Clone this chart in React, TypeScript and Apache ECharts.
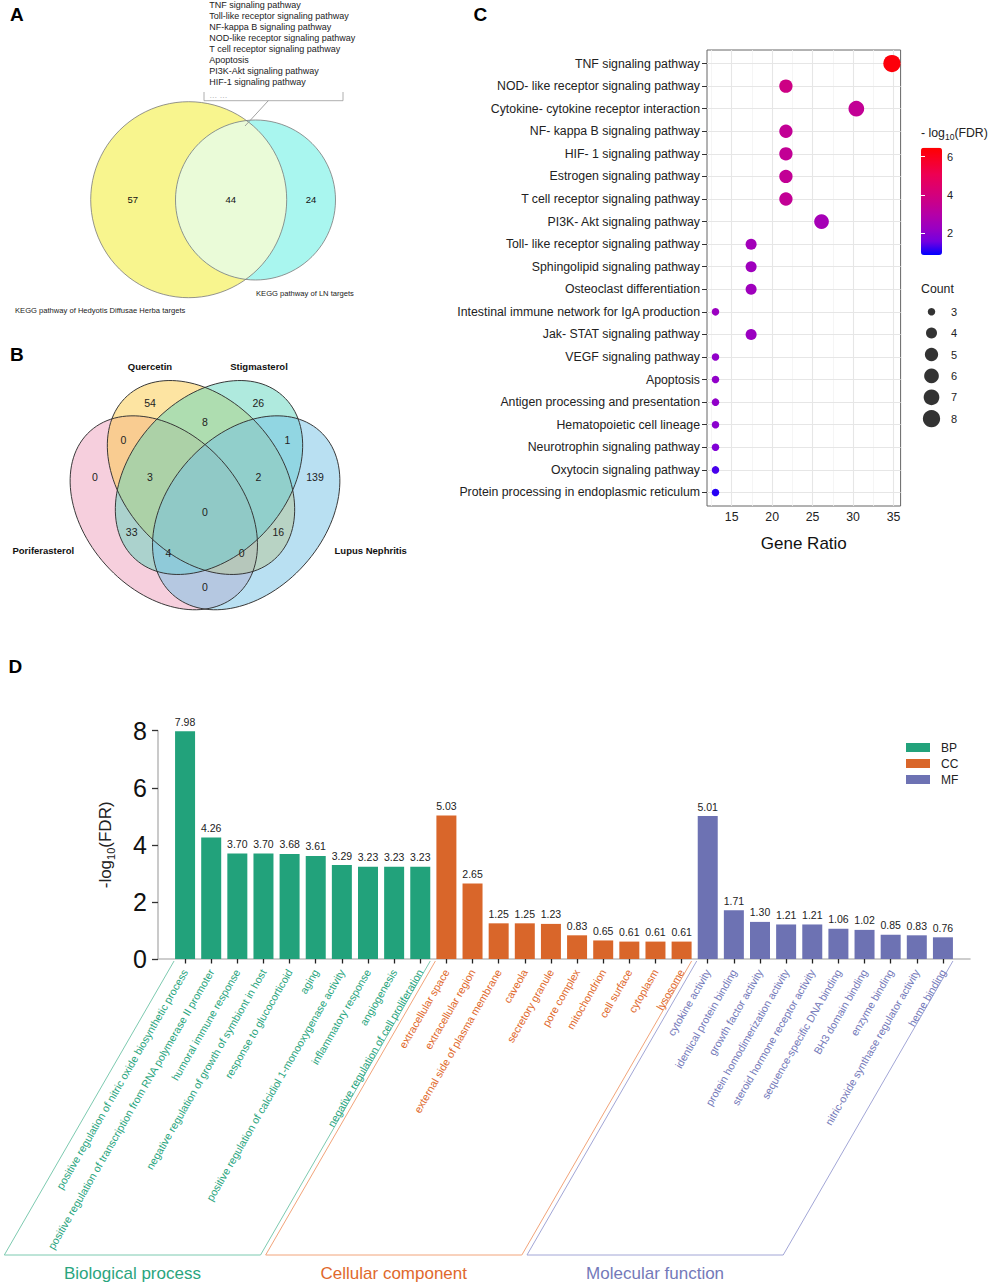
import React, { useEffect, useRef } from "react";
import * as echarts from "echarts";

// ===================== DATA =====================
// Panel A: two-set Venn of KEGG pathways
const vennACounts = [57, 44, 24]; // Hedyotis only, shared, LN only
const vennASetNames = [
  "KEGG pathway of Hedyotis Diffusae Herba targets",
  "KEGG pathway of LN targets",
];
const sharedPathways = [
  "TNF signaling pathway",
  "Toll-like receptor signaling pathway",
  "NF-kappa B signaling pathway",
  "NOD-like receptor signaling pathway",
  "T cell receptor signaling pathway",
  "Apoptosis",
  "PI3K-Akt signaling pathway",
  "HIF-1 signaling pathway",
];

// Panel B: four-set Venn
const vennBSetNames = ["Poriferasterol", "Quercetin", "Stigmasterol", "Lupus Nephritis"];
const vennBRegionKeys = ["A", "B", "C", "D", "AB", "BC", "CD", "ABC", "BCD", "ABCD", "AC", "BD", "ACD", "ABD", "AD"];
const vennBCounts = [0, 54, 26, 139, 0, 8, 1, 3, 2, 0, 33, 16, 4, 0, 0];

// Panel C: KEGG bubble chart
const keggPathways = [
  "TNF signaling pathway",
  "NOD- like receptor signaling pathway",
  "Cytokine- cytokine receptor interaction",
  "NF- kappa B signaling pathway",
  "HIF- 1 signaling pathway",
  "Estrogen signaling pathway",
  "T cell receptor signaling pathway",
  "PI3K- Akt signaling pathway",
  "Toll- like receptor signaling pathway",
  "Sphingolipid signaling pathway",
  "Osteoclast differentiation",
  "Intestinal immune network for IgA production",
  "Jak- STAT signaling pathway",
  "VEGF signaling pathway",
  "Apoptosis",
  "Antigen processing and presentation",
  "Hematopoietic cell lineage",
  "Neurotrophin signaling pathway",
  "Oxytocin signaling pathway",
  "Protein processing in endoplasmic reticulum",
];
const keggGeneRatio = [34.8, 21.7, 30.4, 21.7, 21.7, 21.7, 21.7, 26.1, 17.4, 17.4, 17.4, 13.0, 17.4, 13.0, 13.0, 13.0, 13.0, 13.0, 13.0, 13.0];
const keggCount = [8, 5, 7, 5, 5, 5, 5, 6, 4, 4, 4, 3, 4, 3, 3, 3, 3, 3, 3, 3];
const keggNegLogFdr = [6.3, 3.8, 3.4, 3.4, 3.4, 3.4, 3.4, 2.6, 2.5, 2.4, 2.4, 2.3, 2.3, 2.1, 2.1, 2.1, 2.0, 1.8, 1.3, 1.1];
const countLegendValues = [3, 4, 5, 6, 7, 8];
const geneRatioTicks = [15, 20, 25, 30, 35];
const geneRatioMinorTicks = [12.5, 17.5, 22.5, 27.5, 32.5];
const fdrColorTicks = [2, 4, 6];

// Panel D: GO enrichment bars
const bpTerms = [
  "positive regulation of nitric oxide biosynthetic process",
  "positive regulation of transcription from RNA polymerase II promoter",
  "humoral immune response",
  "negative regulation of growth of symbiont in host",
  "response to glucocorticoid",
  "aging",
  "positive regulation of calcidiol 1-monooxygenase activity",
  "inflammatory response",
  "angiogenesis",
  "negative regulation of cell proliferation",
];
const bpValues = [7.98, 4.26, 3.7, 3.7, 3.68, 3.61, 3.29, 3.23, 3.23, 3.23];
const ccTerms = [
  "extracellular space",
  "extracellular region",
  "external side of plasma membrane",
  "caveola",
  "secretory granule",
  "pore complex",
  "mitochondrion",
  "cell surface",
  "cytoplasm",
  "lysosome",
];
const ccValues = [5.03, 2.65, 1.25, 1.25, 1.23, 0.83, 0.65, 0.61, 0.61, 0.61];
const mfTerms = [
  "cytokine activity",
  "identical protein binding",
  "growth factor activity",
  "protein homodimerization activity",
  "steroid hormone receptor activity",
  "sequence-specific DNA binding",
  "BH3 domain binding",
  "enzyme binding",
  "nitric-oxide synthase regulator activity",
  "heme binding",
];
const mfValues = [5.01, 1.71, 1.3, 1.21, 1.21, 1.06, 1.02, 0.85, 0.83, 0.76];
const goGroupNames = ["BP", "CC", "MF"];
const goGroupTitles = ["Biological process", "Cellular component", "Molecular function"];

// ===================== LAYOUT / STYLE =====================
const FONT = "'Liberation Sans', Arial, Helvetica, sans-serif";
const W = 989;
const H = 1285;

const circA = { cx: 188.7, cy: 199.7, r: 98 };
const circB = { cx: 255.5, cy: 200, r: 80 };
const vennANumPos = [[132.7, 199.5], [230.7, 199.5], [311, 199.5]];
const vennALabelPos = [[15, 310], [256, 293]];

const ellipsesB = [
  { cx: 163.8, cy: 512.8, rx: 110, ry: 78, deg: 48, fill: "rgba(237,160,187,0.5)" },
  { cx: 201, cy: 477.5, rx: 110, ry: 78, deg: 48, fill: "rgba(251,201,70,0.5)" },
  { cx: 209, cy: 477.5, rx: 110, ry: 78, deg: -48, fill: "rgba(95,213,189,0.5)" },
  { cx: 246.2, cy: 512.8, rx: 110, ry: 78, deg: -48, fill: "rgba(115,193,229,0.5)" },
];
const vennBRegionPos: Record<string, number[]> = {
  A: [95, 476.7], B: [150, 403.3], C: [258.3, 403.3], D: [315, 476.7],
  AB: [123.3, 440], BC: [205, 421.7], CD: [287.3, 440], ABC: [150, 476.7],
  BCD: [258.3, 476.7], ABCD: [205, 511.7], AC: [131.7, 531.7], BD: [278.3, 531.7],
  ACD: [168.3, 553.3], ABD: [241.7, 553.3], AD: [205, 586.7],
};
const vennBSetLabelPos = [[43.3, 550], [150, 366.7], [259, 366.7], [370.7, 550]];

const DOT_SIZE: Record<number, number> = { 3: 7.5, 4: 11, 5: 13.3, 6: 14.7, 7: 15.7, 8: 17.3 };
const FDR_COLORS = ["#0000ff", "#7300e0", "#9a00c2", "#b400a8", "#ca0089", "#dc006f", "#ed0053", "#f7002a", "#ff0000"];

const BAR_COLORS = ["#22a27b", "#d9662a", "#6d72b3"];
const LABEL_COLORS = ["#2aa57e", "#e0692c", "#7479b9"];
const BRACKET_COLORS = ["#7dcab0", "#f2a47a", "#a2a6d6"];

// lens shape for panel A intersection
function lensPath(): string {
  const dx = circB.cx - circA.cx;
  const dy = circB.cy - circA.cy;
  const d = Math.hypot(dx, dy);
  const a = (circA.r * circA.r - circB.r * circB.r + d * d) / (2 * d);
  const h = Math.sqrt(circA.r * circA.r - a * a);
  const mx = circA.cx + (a * dx) / d;
  const my = circA.cy + (a * dy) / d;
  const tx = mx + (h * dy) / d, ty = my - (h * dx) / d;
  const bx = mx - (h * dy) / d, by = my + (h * dx) / d;
  return `M ${tx} ${ty} A ${circA.r} ${circA.r} 0 0 1 ${bx} ${by} A ${circB.r} ${circB.r} 0 0 1 ${tx} ${ty} Z`;
}
echarts.graphic.registerShape("vennLens", echarts.graphic.extendPath(lensPath(), {}));

const allTerms = [...bpTerms, ...ccTerms, ...mfTerms];
const groupSizes = [bpTerms.length, ccTerms.length, mfTerms.length];
const groupValues = [bpValues, ccValues, mfValues];
const groupStart = [0, bpTerms.length, bpTerms.length + ccTerms.length];
function groupOf(i: number) {
  return i < groupStart[1] ? 0 : i < groupStart[2] ? 1 : 2;
}
function padGroup(g: number) {
  return allTerms.map((_, i) => (groupOf(i) === g ? groupValues[g][i - groupStart[g]] : "-"));
}

function txt(x: number, y: number, text: string, opts: any = {}) {
  const align = opts.align || "left";
  const va = opts.va || "middle";
  return {
    type: "text",
    x,
    y,
    silent: true,
    z: opts.z || 10,
    style: {
      text,
      fontFamily: FONT,
      fontSize: opts.size || 12,
      fontWeight: opts.weight || "normal",
      fill: opts.color || "#222",
      align,
      verticalAlign: va,
      textAlign: align,
      textVerticalAlign: va,
      rich: opts.rich,
    },
  };
}

function buildOption(): any {
  return {
    animation: false,
    textStyle: { fontFamily: FONT },
    grid: [
      { left: 707, top: 50, width: 193.6, height: 456, show: true, borderColor: "#666", borderWidth: 1, backgroundColor: "#fff" },
      { left: 158, top: 730.7, width: 812, height: 228.3 },
      { left: 172, top: 730.7, width: 784, height: 228.3 },
      { left: 921, top: 147.7, width: 21, height: 107.3 },
      { left: 921, top: 301, width: 21, height: 128.4 },
    ],
    xAxis: [
      {
        gridIndex: 0, type: "value", min: 11.95, max: 35.87,
        axisLine: { show: false },
        axisTick: { show: true, customValues: geneRatioTicks, length: 4, lineStyle: { color: "#333" } },
        axisLabel: { customValues: geneRatioTicks, fontSize: 12.3, color: "#222", margin: 5 },
        splitLine: { show: false },
        name: "Gene Ratio", nameLocation: "middle", nameGap: 29,
        nameTextStyle: { fontSize: 17, color: "#111" },
      },
      {
        gridIndex: 1, type: "value", min: 0, max: 1,
        axisLine: { show: true, lineStyle: { color: "#bdbdbd", width: 1.6 } },
        axisTick: { show: false }, axisLabel: { show: false }, splitLine: { show: false },
      },
      {
        gridIndex: 2, type: "category", data: allTerms,
        axisLine: { show: false },
        axisTick: { show: true, alignWithLabel: true, length: 4.5, interval: 0, lineStyle: { color: "#222", width: 1.3 } },
        axisLabel: {
          interval: 0, rotate: 60, fontSize: 10.7, margin: 11,
          color: (_v: any, idx: number) => LABEL_COLORS[groupOf(idx)],
        },
        splitLine: { show: false },
      },
      { gridIndex: 3, type: "value", min: 0, max: 1, show: false },
      { gridIndex: 4, type: "value", min: -1, max: 1, show: false },
    ],
    yAxis: [
      {
        gridIndex: 0, type: "value", min: -0.6, max: keggPathways.length - 0.4, inverse: true,
        axisLine: { show: false },
        axisTick: { show: true, customValues: keggPathways.map((_, i) => i), length: 5, lineStyle: { color: "#333" } },
        axisLabel: {
          customValues: keggPathways.map((_, i) => i), fontSize: 12.3, color: "#222", margin: 7,
          formatter: (v: number) => keggPathways[Math.round(v)],
        },
        splitLine: { show: false },
      },
      {
        gridIndex: 1, type: "value", min: 0, max: 8, interval: 2,
        axisLine: { show: true, lineStyle: { color: "#bdbdbd", width: 1.6 } },
        axisTick: { show: true, length: 6, lineStyle: { color: "#333", width: 1.3 } },
        axisLabel: { fontSize: 25, color: "#111", margin: 11 },
        splitLine: { show: false },
        name: "-log{sub|10}(FDR)", nameLocation: "middle", nameGap: 42,
        nameTextStyle: {
          fontSize: 17, color: "#222",
          rich: { sub: { fontSize: 11, verticalAlign: "bottom", padding: [10, 0, 0, 0], color: "#222" } },
        },
      },
      { gridIndex: 2, type: "value", min: 0, max: 8, show: false },
      {
        gridIndex: 3, type: "value", min: 0.87, max: 6.47, position: "right", z: 10,
        axisLine: { show: false },
        axisTick: { show: true, inside: true, customValues: fdrColorTicks, length: 4, lineStyle: { color: "#ffffff", width: 1 } },
        axisLabel: { customValues: fdrColorTicks, fontSize: 11, color: "#222", margin: 5 },
        splitLine: { show: false },
      },
      {
        gridIndex: 3, type: "value", min: 0.87, max: 6.47, position: "left", z: 10,
        axisLine: { show: false },
        axisTick: { show: true, inside: true, customValues: fdrColorTicks, length: 4, lineStyle: { color: "#ffffff", width: 1 } },
        axisLabel: { show: false },
        splitLine: { show: false },
      },
      {
        gridIndex: 4, type: "category", data: countLegendValues.map(String), inverse: true, position: "right",
        axisLine: { show: false }, axisTick: { show: false },
        axisLabel: { fontSize: 11, color: "#222", margin: 9 },
        splitLine: { show: false },
      },
    ],
    visualMap: [
      {
        type: "continuous", seriesIndex: 1, dimension: 2, min: 0.87, max: 6.47,
        inRange: { color: FDR_COLORS },
        left: 921, top: 147.7, itemWidth: 21, itemHeight: 107.3, padding: 0,
        calculable: false, hoverLink: false, show: true,
      },
    ],
    legend: {
      data: goGroupNames, orient: "vertical", left: 906, top: 741.5, padding: 0,
      itemWidth: 24, itemHeight: 9, itemGap: 4, icon: "rect", selectedMode: false,
      textStyle: { fontSize: 12, color: "#222", padding: [0, 0, 0, 6] },
    },
    series: [
      {
        type: "scatter", xAxisIndex: 0, yAxisIndex: 0, z: 1, silent: true,
        data: [[keggGeneRatio[0], 0]], symbolSize: 0, itemStyle: { opacity: 0 },
        markLine: {
          z: 1, silent: true, symbol: ["none", "none"], label: { show: false }, animation: false,
          data: [
            ...geneRatioMinorTicks.map((v) => ({ xAxis: v, lineStyle: { color: "#f3f3f3", width: 0.8, type: "solid" } })),
            ...geneRatioTicks.map((v) => ({ xAxis: v, lineStyle: { color: "#e6e6e6", width: 1.1, type: "solid" } })),
            ...keggPathways.map((_, i) => ({ yAxis: i, lineStyle: { color: "#e6e6e6", width: 1.1, type: "solid" } })),
          ],
        },
      },
      {
        type: "scatter", xAxisIndex: 0, yAxisIndex: 0, z: 8, silent: true,
        data: keggPathways.map((_, i) => [keggGeneRatio[i], i, keggNegLogFdr[i], keggCount[i]]),
        symbolSize: (v: number[]) => DOT_SIZE[v[3]],
        itemStyle: { opacity: 1 },
      },
      ...goGroupNames.map((name, g) => ({
        type: "bar", name, xAxisIndex: 2, yAxisIndex: 2, barWidth: 20, barGap: "-100%", silent: true,
        data: padGroup(g),
        itemStyle: { color: BAR_COLORS[g] },
        label: {
          show: true, position: "top", distance: 4, fontSize: 10.5, color: "#222",
          formatter: (p: any) => (typeof p.value === "number" ? p.value.toFixed(2) : ""),
        },
      })),
      {
        type: "scatter", xAxisIndex: 4, yAxisIndex: 5, silent: true,
        data: countLegendValues.map((c) => [0, String(c)]),
        symbolSize: (v: any[]) => DOT_SIZE[Number(v[1])],
        itemStyle: { color: "#000" },
      },
    ],
  };
}

function buildGraphics(chart: echarts.ECharts): any[] {
  const g: any[] = [];
  // panel letters
  g.push(txt(10, 14.5, "A", { size: 19, weight: "bold", color: "#000" }));
  g.push(txt(10, 354, "B", { size: 19, weight: "bold", color: "#000" }));
  g.push(txt(473.5, 14.5, "C", { size: 19, weight: "bold", color: "#000" }));
  g.push(txt(8.5, 666.5, "D", { size: 19, weight: "bold", color: "#000" }));

  // ---- Panel A ----
  g.push({ type: "circle", silent: true, shape: { cx: circA.cx, cy: circA.cy, r: circA.r }, style: { fill: "#f8f58e" } });
  g.push({ type: "circle", silent: true, shape: { cx: circB.cx, cy: circB.cy, r: circB.r }, style: { fill: "#a9f6ef" } });
  g.push({ type: "vennLens", silent: true, x: 0, y: 0, scaleX: 1, scaleY: 1, style: { fill: "#eafbd8" } });
  g.push({ type: "circle", silent: true, shape: { cx: circA.cx, cy: circA.cy, r: circA.r }, style: { fill: "none", stroke: "#7a7a7a", lineWidth: 0.8 } });
  g.push({ type: "circle", silent: true, shape: { cx: circB.cx, cy: circB.cy, r: circB.r }, style: { fill: "none", stroke: "#7a7a7a", lineWidth: 0.8 } });
  vennACounts.forEach((c, i) => g.push(txt(vennANumPos[i][0], vennANumPos[i][1], String(c), { size: 9.5, align: "center", color: "#111" })));
  vennASetNames.forEach((s, i) => g.push(txt(vennALabelPos[i][0], vennALabelPos[i][1], s, { size: 7.6, color: "#222" })));
  sharedPathways.forEach((p, i) => g.push(txt(209.3, 5 + i * 10.95, p, { size: 9, color: "#222" })));
  g.push(txt(209.3, 95.5, "… …", { size: 8, color: "#999" }));
  g.push({ type: "polyline", silent: true, shape: { points: [[204, 92], [204, 100.7], [343, 100.7], [343, 92]] }, style: { fill: "none", stroke: "#9a9a9a", lineWidth: 0.8 } });
  g.push({ type: "line", silent: true, shape: { x1: 268.3, y1: 100.7, x2: 245, y2: 126 }, style: { stroke: "#8a8a8a", lineWidth: 0.8 } });

  // ---- Panel B ----
  ellipsesB.forEach((e) => g.push({
    type: "ellipse", silent: true, x: e.cx, y: e.cy, rotation: (-e.deg * Math.PI) / 180,
    shape: { cx: 0, cy: 0, rx: e.rx, ry: e.ry }, style: { fill: e.fill },
  }));
  ellipsesB.forEach((e) => g.push({
    type: "ellipse", silent: true, x: e.cx, y: e.cy, rotation: (-e.deg * Math.PI) / 180,
    shape: { cx: 0, cy: 0, rx: e.rx, ry: e.ry }, style: { fill: "none", stroke: "#333", lineWidth: 0.9 },
  }));
  vennBRegionKeys.forEach((k, i) => {
    const p = vennBRegionPos[k];
    g.push(txt(p[0], p[1], String(vennBCounts[i]), { size: 10.5, align: "center", color: "#222" }));
  });
  vennBSetNames.forEach((s, i) => g.push(txt(vennBSetLabelPos[i][0], vennBSetLabelPos[i][1], s, { size: 9.5, weight: "bold", align: "center", color: "#111" })));

  // ---- Panel C legend titles ----
  g.push(txt(921, 133, "- log{sub|10}(FDR)", {
    size: 12.3, color: "#222",
    rich: { sub: { fontSize: 8.5, verticalAlign: "bottom", padding: [7, 0, 0, 0], fill: "#222", color: "#222" } },
  }));
  g.push(txt(921, 288.5, "Count", { size: 12.3, color: "#222" }));

  // ---- Panel D brackets ----
  const topY = 961;
  const botY = 1255;
  const shift = (botY - topY) / Math.tan((60 * Math.PI) / 180);
  groupSizes.forEach((n, gi) => {
    const first = chart.convertToPixel({ xAxisIndex: 2 } as any, groupStart[gi]) as unknown as number;
    const last = chart.convertToPixel({ xAxisIndex: 2 } as any, groupStart[gi] + n - 1) as unknown as number;
    const xl = first - 11;
    const xr = last + 10;
    g.push({
      type: "polyline", silent: true,
      shape: { points: [[xl, topY], [xl - shift, botY], [xr - shift, botY], [xr, topY]] },
      style: { fill: "none", stroke: BRACKET_COLORS[gi], lineWidth: 1 },
    });
    g.push(txt((xl + xr) / 2 - shift, 1273, goGroupTitles[gi], { size: 17, align: "center", color: LABEL_COLORS[gi] }));
  });
  return g;
}

export default function App() {
  const ref = useRef<HTMLDivElement>(null);
  useEffect(() => {
    document.body.style.margin = "0";
    document.body.style.overflow = "hidden";
    const chart = echarts.init(ref.current as HTMLDivElement, null, { renderer: "svg" });
    chart.setOption(buildOption());
    chart.setOption({ graphic: buildGraphics(chart) });
    return () => chart.dispose();
  }, []);
  return (
    <div
      ref={ref}
      style={{ position: "absolute", left: 0, top: 0, width: W, height: H, background: "#fff" }}
    />
  );
}
